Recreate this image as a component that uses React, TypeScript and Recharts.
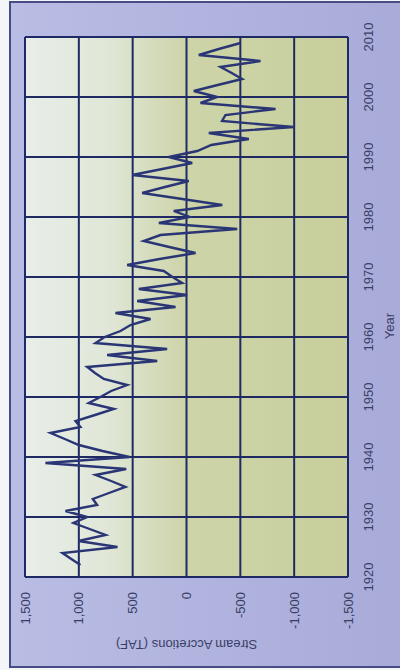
import React from 'react';
import { LineChart, Line, XAxis, YAxis, CartesianGrid } from 'recharts';

// water years shown on the chart
const years = [
  1922, 1923, 1924, 1925, 1926, 1927, 1928, 1929, 1930,
  1931, 1932, 1933, 1934, 1935, 1936, 1937, 1938, 1939, 1940,
  1941, 1942, 1943, 1944, 1945, 1946, 1947, 1948, 1949, 1950,
  1951, 1952, 1953, 1954, 1955, 1956, 1957, 1958, 1959, 1960,
  1961, 1962, 1963, 1964, 1965, 1966, 1967, 1968, 1969, 1970,
  1971, 1972, 1973, 1974, 1975, 1976, 1977, 1978, 1979, 1980,
  1981, 1982, 1983, 1984, 1985, 1986, 1987, 1988, 1989, 1990,
  1991, 1992, 1993, 1994, 1995, 1996, 1997, 1998, 1999, 2000,
  2001, 2002, 2003, 2004, 2005, 2006, 2007, 2008, 2009,
];

// stream accretions, TAF
const accretions = [
  985, 1070, 1152, 641, 1003, 752, 900, 1050, 922,
  1124, 830, 870, 720, 567, 700, 845, 560, 1310, 530,
  780, 1000, 1130, 1263, 985, 1031, 850, 675, 908, 800,
  700, 551, 768, 850, 922, 272, 737, 180, 845, 760,
  613, 520, 334, 660, 102, 458, -6, 443, 40, 130,
  211, 551, 250, -84, 160, 397, 242, -471, 257, -30,
  118, -332, 40, 412, 200, -21, 504, 225, -53, 164,
  -100, -230, -579, -207, -997, -330, -362, -827, -130, -285,
  -68, -290, -517, -420, -316, -687, -114, -300, -502,
];

const yearTicks = [1920, 1930, 1940, 1950, 1960, 1970, 1980, 1990, 2000, 2010];
const valueTicks = [-1500, -1000, -500, 0, 500, 1000, 1500];

const data = years.map((year, i) => ({ year, value: accretions[i] }));

const navy = '#1f2a64';
const labelColor = '#3a3e66';
const font = '"Liberation Sans", Arial, sans-serif';

export default function App() {
  return (
    <div
      style={{
        position: 'fixed',
        left: 0,
        top: 0,
        width: 400,
        height: 670,
        overflow: 'hidden',
        background: '#f4f5f9',
      }}
    >
      {/* scanned page frame */}
      <div
        style={{
          position: 'absolute',
          left: 9,
          top: 1,
          width: 400,
          height: 663,
          border: '2px solid #474c84',
          background: 'linear-gradient(90deg, #b9bce3 0%, #b2b5df 40%, #a8abd8 100%)',
        }}
      />
      {/* chart drawn upright, then turned a quarter turn counter-clockwise */}
      <div
        style={{
          position: 'absolute',
          left: 0,
          top: 0,
          width: 670,
          height: 400,
          transformOrigin: '0 0',
          transform: 'translate(0px, 670px) rotate(-90deg)',
        }}
      >
        <LineChart
          width={670}
          height={400}
          data={data}
          margin={{ top: 25, right: 37, left: 5, bottom: 2 }}
        >
          <defs>
            <linearGradient id="plotBg" x1="0" y1="0" x2="0" y2="1">
              <stop offset="0%" stopColor="#e8eee9" />
              <stop offset="25%" stopColor="#e0e7d8" />
              <stop offset="50%" stopColor="#cdd4a8" />
              <stop offset="100%" stopColor="#c8cf9c" />
            </linearGradient>
          </defs>
          <CartesianGrid
            fill="url(#plotBg)"
            stroke={navy}
            strokeWidth={2}
            horizontalValues={valueTicks}
            verticalValues={yearTicks}
          />
          <XAxis
            dataKey="year"
            type="number"
            domain={[1920, 2010]}
            ticks={yearTicks}
            axisLine={false}
            tickLine={false}
            tickSize={0}
            tickMargin={16}
            height={50}
            tick={{ fill: labelColor, fontSize: 13, fontFamily: font }}
            label={{
              value: 'Year',
              position: 'insideBottom',
              offset: 4,
              dx: -19,
              fill: labelColor,
              fontSize: 13,
              fontFamily: font,
            }}
          />
          <YAxis
            type="number"
            domain={[-1500, 1500]}
            ticks={valueTicks}
            axisLine={false}
            tickLine={false}
            tickSize={0}
            tickMargin={15}
            width={88}
            tickFormatter={(v: number) => v.toLocaleString('en-US')}
            tick={{ fill: labelColor, fontSize: 13, fontFamily: font }}
            label={{
              value: 'Stream Accretions (TAF)',
              angle: -90,
              position: 'insideLeft',
              offset: 20,
              fill: labelColor,
              fontSize: 13,
              fontFamily: font,
              style: { textAnchor: 'middle' },
            }}
          />
          <Line
            type="linear"
            dataKey="value"
            stroke="#2a3575"
            strokeWidth={2.4}
            dot={false}
            isAnimationActive={false}
          />
        </LineChart>
      </div>
    </div>
  );
}
